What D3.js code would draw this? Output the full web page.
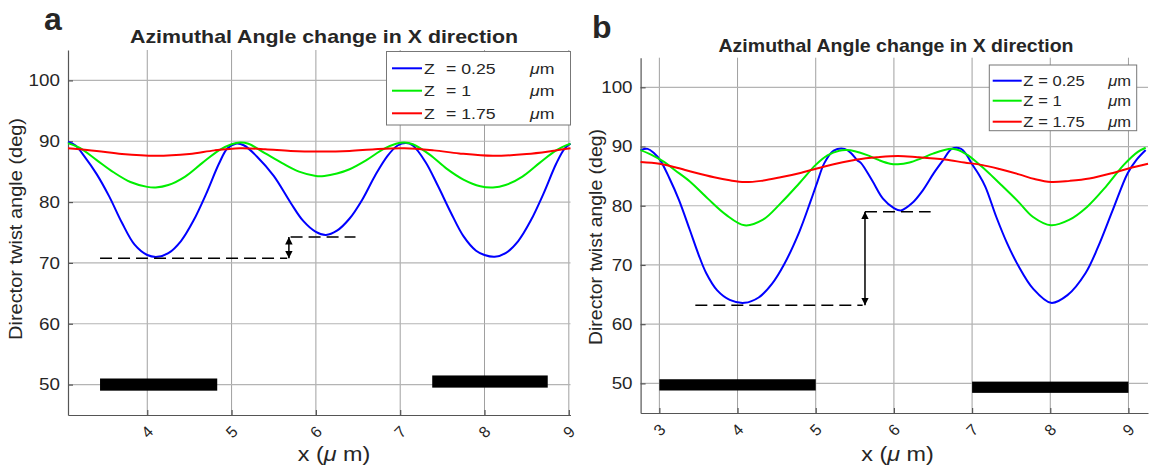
<!DOCTYPE html>
<meta charset="utf-8">
<script src="https://d3js.org/d3.v7.min.js"></script>
<style>
  body { margin: 0; background: #fff; }
  text { font-family: 'Liberation Sans', Arial, sans-serif; fill: #262626; }
</style>
<div id="chart"></div>
<script>
// ---- data ----
// panel a
var aBlueX  = [3.06,3.15,3.25,3.4,3.55,3.7,3.85,4.0,4.12,4.25,4.4,4.55,4.7,4.85,4.95,5.05,5.15,5.3,5.5,5.7,5.85,6.0,6.12,6.25,6.4,6.55,6.7,6.85,6.97,7.07,7.15,7.3,7.45,7.6,7.75,7.9,8.0,8.12,8.25,8.4,8.55,8.7,8.85,8.95,9.02];
var aBlueY  = [89.9,89.3,87.6,84.6,80.9,76.6,73.0,71.3,71.0,71.6,73.6,77.0,81.4,86.3,88.8,89.6,89.3,87.5,84.3,79.9,76.9,75.1,74.6,75.3,77.3,80.4,84.3,87.6,89.3,89.7,89.3,86.6,82.6,78.3,74.4,72.0,71.3,71.0,71.6,73.6,77.0,81.4,86.3,88.8,89.6];
var aGreenX = [3.06,3.2,3.4,3.6,3.8,4.0,4.1,4.25,4.45,4.65,4.85,5.0,5.1,5.2,5.4,5.6,5.8,6.0,6.1,6.25,6.4,6.6,6.8,6.95,7.05,7.15,7.35,7.55,7.75,7.95,8.1,8.25,8.45,8.65,8.85,9.02];
var aGreenY = [89.7,88.9,86.9,84.9,83.3,82.5,82.4,82.8,84.2,86.4,88.5,89.5,89.8,89.6,88.0,86.4,85.0,84.3,84.3,84.7,85.4,86.9,88.7,89.6,89.8,89.5,87.8,85.5,83.7,82.6,82.4,82.8,84.2,86.4,88.5,89.6];
var aRedX   = [3.06,3.4,3.7,4.1,4.5,4.8,5.1,5.4,5.7,6.05,6.4,6.7,7.05,7.4,7.7,8.1,8.5,8.8,9.02];
var aRedY   = [88.85,88.4,87.9,87.6,87.9,88.5,88.85,88.7,88.4,88.3,88.4,88.7,88.85,88.5,88.0,87.6,87.9,88.4,88.85];
// panel b
var bBlueX  = [2.76,2.85,2.93,3.01,3.13,3.25,3.39,3.5,3.6,3.74,3.9,4.09,4.27,4.44,4.6,4.79,4.93,5.02,5.11,5.23,5.37,5.45,5.53,5.58,5.72,5.86,6.0,6.09,6.23,6.37,6.51,6.63,6.74,6.86,6.93,7.0,7.08,7.17,7.31,7.45,7.59,7.78,8.01,8.22,8.45,8.61,8.8,8.99,9.1,9.22];
var bBlueY  = [89.4,89.6,88.9,87.7,84.6,81.0,75.9,71.8,68.6,65.7,64.1,63.6,64.5,66.8,70.2,75.6,80.6,84.0,87.2,89.3,89.6,88.9,87.7,87.2,84.3,81.2,79.6,79.2,80.4,82.6,85.5,87.7,89.6,89.6,88.6,87.0,85.4,83.2,78.1,73.6,69.9,66.0,63.6,64.9,68.6,73.0,79.3,85.5,87.7,89.4];
var bGreenX = [2.76,2.9,3.06,3.2,3.39,3.62,3.85,4.09,4.32,4.55,4.79,5.0,5.15,5.3,5.4,5.5,5.65,5.81,5.95,6.05,6.2,6.35,6.5,6.7,6.8,6.95,7.07,7.2,7.35,7.59,7.78,8.01,8.24,8.47,8.71,8.94,9.12,9.22];
var bGreenY = [89.4,88.6,87.4,86.0,84.1,81.2,78.5,76.7,77.6,80.4,83.8,86.9,88.5,89.3,89.4,89.2,88.6,87.7,87.1,87.0,87.3,88.0,88.8,89.6,89.5,88.5,87.2,85.7,83.8,80.7,78.1,76.7,77.6,79.8,83.2,86.9,89.1,89.8];
var bRedX   = [2.76,3.0,3.2,3.45,3.7,3.9,4.09,4.3,4.55,4.79,5.1,5.53,5.8,6.05,6.3,6.65,6.9,7.12,7.35,7.6,7.8,8.01,8.25,8.5,8.79,9.0,9.25];
var bRedY   = [87.4,87.1,86.5,85.6,84.8,84.3,84.0,84.2,84.8,85.5,86.6,87.8,88.2,88.4,88.2,87.8,87.3,86.9,86.2,85.3,84.5,84.0,84.2,84.6,85.5,86.3,87.1];

var seriesNames = ["Z  = 0.25", "Z  = 1", "Z  = 1.75"];
var seriesColors = ["#0000ff", "#00ee00", "#ff0000"];
var yTicks = [50, 60, 70, 80, 90, 100];
var aXTicks = [4, 5, 6, 7, 8, 9];
var bXTicks = [3, 4, 5, 6, 7, 8, 9];

// black electrode bars [x0, x1, yLow, yHigh]
var aBars = [[3.44, 4.83, 49.0, 51.0], [7.38, 8.75, 49.5, 51.5]];
var bBars = [[3.0, 5.0, 48.8, 50.7], [7.0, 9.0, 48.4, 50.3]];
// dashed guides [x0, x1, y] and arrow [x, yLow, yHigh]
var aDash = [[3.44, 5.66, 70.75], [5.70, 6.47, 74.25]];
var aArrow = [5.68, 70.75, 74.25];
var bDash = [[3.46, 5.60, 63.2], [5.63, 6.47, 79.0]];
var bArrow = [5.63, 63.2, 79.0];

var SX = 1.14; // the figure is stretched horizontally

var svg = d3.select("#chart").append("svg")
    .attr("width", 1149).attr("height", 472);

var defs = svg.append("defs");
["arrEnd", "arrStart"].forEach(function (id, i) {
  defs.append("marker").attr("id", id)
    .attr("viewBox", "0 0 10 10").attr("refX", 10).attr("refY", 5)
    .attr("markerWidth", 5).attr("markerHeight", 5)
    .attr("markerUnits", "strokeWidth")
    .attr("orient", i == 0 ? "auto" : "auto-start-reverse")
    .append("path").attr("d", "M0,0 L10,5 L0,10 z").attr("fill", "#000");
});

function stretch(sel) {
  sel.each(function () {
    var w = this.getComputedTextLength();
    d3.select(this).attr("textLength", w * SX).attr("lengthAdjust", "spacingAndGlyphs");
  });
}

function drawPanel(p) {
  var x = d3.scaleLinear().domain(p.xDomain).range(p.xRange);
  var y = d3.scaleLinear().domain([45, 105]).range(p.yRange);
  var g = svg.append("g");
  var top = p.yRange[1], bot = p.yRange[0];

  // grid
  g.selectAll(".vg").data(p.xTicks).enter().append("line")
    .attr("x1", d => x(d)).attr("x2", d => x(d)).attr("y1", top).attr("y2", bot)
    .attr("stroke", "#a0a0a0").attr("stroke-width", 1);
  g.selectAll(".hg").data(yTicks).enter().append("line")
    .attr("x1", p.xRange[0]).attr("x2", p.xRange[1]).attr("y1", d => y(d)).attr("y2", d => y(d))
    .attr("stroke", "#b4b4b4").attr("stroke-width", 1.2);

  // axes (ticks point inward)
  var ax = g.append("g").attr("transform", "translate(0," + bot + ")")
    .call(d3.axisBottom(x).tickValues(p.xTicks).tickSizeInner(-5).tickSizeOuter(0).tickFormat(""));
  var ay = g.append("g").attr("transform", "translate(" + p.xRange[0] + ",0)")
    .call(d3.axisLeft(y).tickValues(yTicks).tickSizeInner(-5).tickSizeOuter(0).tickFormat(""));
  [ax, ay].forEach(function (a) {
    a.selectAll("path,line").attr("stroke", "#555").attr("stroke-width", 1.2);
  });

  // tick labels
  var yl = g.selectAll(".yl").data(yTicks).enter().append("text")
    .attr("x", p.xRange[0] - 8).attr("y", d => y(d)).attr("dy", "0.35em")
    .attr("text-anchor", "end").attr("font-size", 16.5).text(d => d);
  stretch(yl);
  g.selectAll(".xl").data(p.xTicks).enter().append("text")
    .attr("transform", d => "translate(" + x(d) + "," + (bot + 17) + ") rotate(-45)")
    .attr("text-anchor", "middle").attr("dy", "0.35em").attr("font-size", 16).text(d => d);

  // bars
  g.selectAll(".bar").data(p.bars).enter().append("rect")
    .attr("x", d => x(d[0])).attr("width", d => x(d[1]) - x(d[0]))
    .attr("y", d => y(d[3])).attr("height", d => y(d[2]) - y(d[3]))
    .attr("fill", "#000");

  // curves
  var line = d3.line().x(d => x(d[0])).y(d => y(d[1])).curve(d3.curveCatmullRom.alpha(0.5));
  p.series.forEach(function (s, i) {
    var pts = s[0].map((v, k) => [v, s[1][k]]);
    g.append("path").datum(pts).attr("d", line)
      .attr("fill", "none").attr("stroke", seriesColors[i]).attr("stroke-width", 2);
  });

  // dashed guides and double arrow
  g.selectAll(".dash").data(p.dash).enter().append("line")
    .attr("x1", d => x(d[0])).attr("x2", d => x(d[1]))
    .attr("y1", d => y(d[2])).attr("y2", d => y(d[2]))
    .attr("stroke", "#000").attr("stroke-width", 1.5).attr("stroke-dasharray", "12,6");
  g.append("line")
    .attr("x1", x(p.arrow[0])).attr("x2", x(p.arrow[0]))
    .attr("y1", y(p.arrow[1])).attr("y2", y(p.arrow[2]))
    .attr("stroke", "#000").attr("stroke-width", 1.5)
    .attr("marker-start", "url(#arrStart)").attr("marker-end", "url(#arrEnd)");

  // legend
  var L = p.legend;
  g.append("rect").attr("x", L.x0).attr("y", L.y0).attr("width", L.x1 - L.x0).attr("height", L.y1 - L.y0)
    .attr("fill", "#fff").attr("stroke", "#777").attr("stroke-width", 1);
  seriesNames.forEach(function (name, i) {
    var ry = L.rows[i];
    g.append("line").attr("x1", L.lx0).attr("x2", L.lx1).attr("y1", ry).attr("y2", ry)
      .attr("stroke", seriesColors[i]).attr("stroke-width", 2);
    stretch(g.append("text").attr("x", L.zx).attr("y", ry).attr("dy", "0.36em")
      .attr("font-size", L.fs).text("Z"));
    stretch(g.append("text").attr("x", L.ex).attr("y", ry).attr("dy", "0.36em")
      .attr("font-size", L.fs).text(name.replace("Z  ", "")));
    var um = g.append("text").attr("x", L.ux).attr("y", ry).attr("dy", "0.36em").attr("font-size", L.fs);
    um.append("tspan").attr("font-style", "italic").text("\u03bc");
    um.append("tspan").text("m");
    stretch(um);
  });

  // titles and labels
  svg.append("text").attr("x", p.title[0]).attr("y", p.title[1]).attr("text-anchor", "middle")
    .attr("font-weight", "bold").attr("font-size", 18.5).attr("fill", "#000")
    .attr("textLength", p.title[2]).attr("lengthAdjust", "spacingAndGlyphs")
    .text("Azimuthal Angle change in X direction");
  var xt = svg.append("text").attr("x", p.xlab[0]).attr("y", p.xlab[1]).attr("text-anchor", "middle")
    .attr("font-size", 20.5);
  xt.append("tspan").text("x (");
  xt.append("tspan").attr("font-style", "italic").text("\u03bc");
  xt.append("tspan").text(" m)");
  stretch(xt);
  svg.append("text").attr("transform", "translate(" + p.ylab[0] + "," + p.ylab[1] + ") rotate(-90)")
    .attr("text-anchor", "middle").attr("font-size", 19)
    .attr("textLength", p.ylab[2]).attr("lengthAdjust", "spacingAndGlyphs")
    .text("Director twist angle (deg)");
  svg.append("text").attr("x", p.tag[0]).attr("y", p.tag[1])
    .attr("font-weight", "bold").attr("font-size", 32).attr("fill", "#000").text(p.tag[2]);
}

drawPanel({
  xDomain: [3.06, 9.02], xRange: [68, 570.5], yRange: [415, 50],
  xTicks: aXTicks,
  series: [[aBlueX, aBlueY], [aGreenX, aGreenY], [aRedX, aRedY]],
  bars: aBars, dash: aDash, arrow: aArrow,
  legend: { x0: 386.5, x1: 570.5, y0: 51.5, y1: 125, rows: [68.3, 90.7, 113.3],
            lx0: 392, lx1: 422, zx: 424, ex: 446, ux: 530, fs: 15.5 },
  title: [324, 42.5, 388], xlab: [334, 461], ylab: [22, 229, 222], tag: [44, 29.5, "a"]
});

drawPanel({
  xDomain: [2.76, 9.25], xRange: [640.6, 1148], yRange: [413, 57.7],
  xTicks: bXTicks,
  series: [[bBlueX, bBlueY], [bGreenX, bGreenY], [bRedX, bRedY]],
  bars: bBars, dash: bDash, arrow: bArrow,
  legend: { x0: 989.3, x1: 1136.7, y0: 65, y1: 130.7, rows: [80.7, 100.7, 121.7],
            lx0: 992.7, lx1: 1021.7, zx: 1023.3, ex: 1038.3, ux: 1108.3, fs: 14.5 },
  title: [896, 51.5, 355], xlab: [897.5, 461], ylab: [602, 237, 216], tag: [592, 38, "b"]
});
</script>
